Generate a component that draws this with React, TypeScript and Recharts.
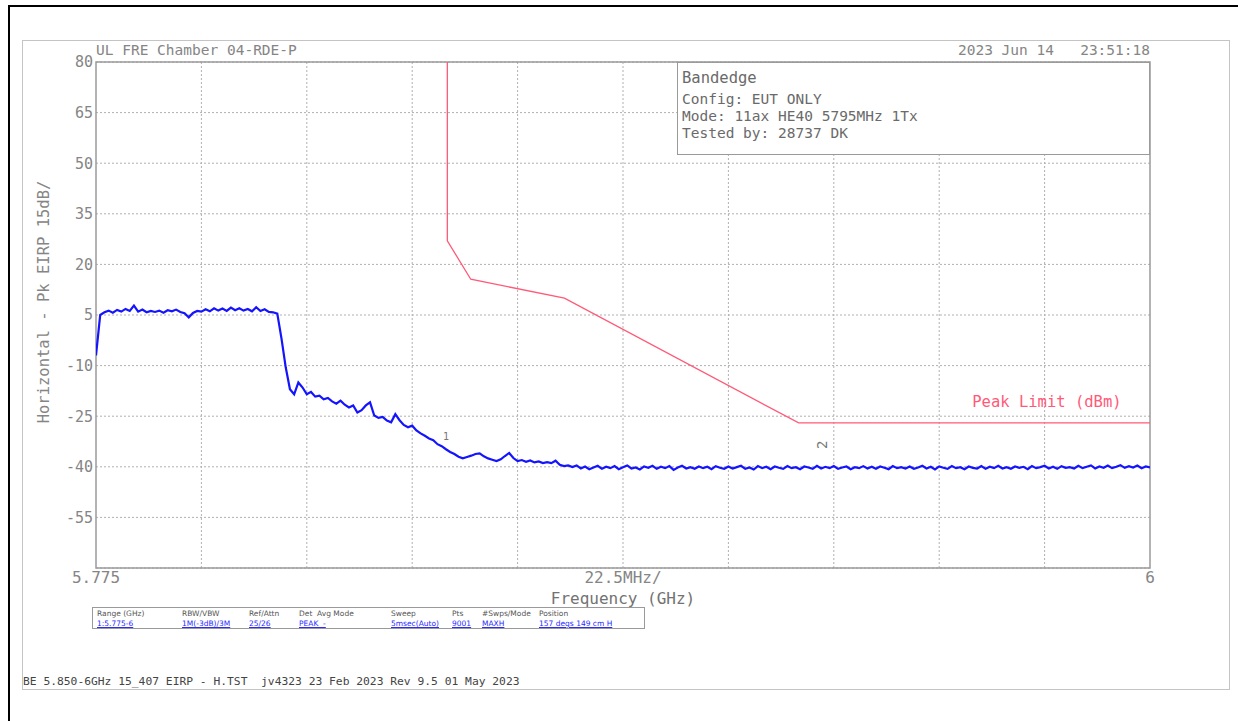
import React from "react";
import {
  ComposedChart,
  Line,
  XAxis,
  YAxis,
  CartesianGrid,
  ReferenceArea,
  ReferenceDot,
} from "recharts";

// analyzer sweep: evenly spaced points, levels (dBm)
const sweepStartGHz = 5.775;
const sweepStepGHz = 0.0009;
const traceLevels = [
  -7, 5.0, 5.8, 6.3, 5.7, 6.5, 6.0, 6.8, 6.2, 7.8,
  6.0, 6.6, 5.8, 6.2, 5.9, 6.3, 5.7, 6.4, 6.1, 6.6,
  5.9, 5.5, 4.3, 5.6, 6.2, 6.0, 6.7, 6.1, 7.0, 6.3,
  6.9, 6.2, 7.2, 6.4, 7.0, 6.3, 6.8, 6.1, 7.3, 6.2,
  6.7, 5.9, 5.8, 5.4, -2.0, -10.5, -17.0, -18.5, -15.0, -16.5,
  -18.5, -17.8, -19.2, -18.9, -20.0, -19.6, -20.6, -21.3, -20.4, -21.6,
  -22.4, -21.8, -23.9, -23.2, -21.8, -20.9, -24.8, -25.5, -25.2, -26.3,
  -26.8, -24.4, -26.2, -27.6, -28.3, -27.8, -29.2, -30.1, -30.8, -31.6,
  -32.1, -33.3, -33.9, -34.8, -35.6, -36.2, -37.0, -37.5, -37.1, -36.7,
  -36.2, -36.0, -36.9, -37.5, -37.9, -38.3, -37.8, -36.8, -35.9, -37.4,
  -38.3, -38.0, -38.5, -38.1, -38.7, -38.4, -38.9, -38.6, -38.9, -38.2,
  -39.4, -39.8, -39.6,
  -40.1, -39.6, -40.5, -39.9, -40.7, -40.2, -39.7, -40.6, -40.0, -40.4,
  -39.8, -40.7, -40.1, -39.6, -40.5, -40.2, -40.8, -39.9, -40.3, -39.7,
  -40.6, -40.0, -40.4, -39.8, -40.9, -40.2, -39.7, -40.5, -40.1, -40.6,
  -39.9, -40.4, -40.0, -40.7, -39.8, -40.3, -40.6, -39.9, -40.5, -40.1,
  -39.7, -40.6, -40.2, -40.8, -39.8, -40.4, -40.0, -40.7, -39.9, -40.3,
  -40.6, -39.8, -40.4, -40.1, -40.7, -39.9, -40.2, -40.6, -39.7, -40.5,
  -40.0, -40.4, -39.8, -40.6, -40.2, -39.9, -40.7, -40.1, -40.4, -39.8,
  -40.5, -40.0, -40.6, -39.9, -40.3, -40.7, -39.8, -40.4, -40.1, -40.5,
  -39.9, -40.6, -40.2, -39.7, -40.5, -40.0, -40.8, -39.9, -40.3, -40.6,
  -39.8, -40.4, -40.1, -40.7, -39.9, -40.3, -40.5, -39.8, -40.6, -40.0,
  -40.4, -39.7, -40.5, -40.1, -40.6, -39.9, -40.3, -40.0, -40.7, -39.8,
  -40.4, -40.1, -39.7, -40.5, -40.0, -40.6, -39.8, -40.3, -40.1, -40.5,
  -39.7, -40.4, -40.0, -39.6, -40.5, -39.9, -40.3, -39.6, -40.4, -40.0,
  -39.5, -40.3, -39.8, -40.2, -39.6, -40.4, -39.9, -40.2,
];

// FCC 15.407 peak limit mask
const limitFreqs = [5.85, 5.85, 5.855, 5.875, 5.925, 6.0];
const limitLevels = [80, 27, 15.6, 10, -27, -27];

const yTicks = [80, 65, 50, 35, 20, 5, -10, -25, -40, -55];
const yGridLevels = [80, 65, 50, 35, 20, 5, -10, -25, -40, -55, -70];
const xGridFreqs = [5.7975, 5.82, 5.8425, 5.865, 5.8875, 5.91, 5.9325, 5.955, 5.9775];
const xTickFreqs = [5.775, 5.8875, 6.0];
const xTickLabels = ["5.775", "22.5MHz/", "6"];

const infoLines = ["Config: EUT ONLY", "Mode: 11ax HE40 5795MHz 1Tx", "Tested by: 28737 DK"];

const tableHeads = ["Range (GHz)", "RBW/VBW", "Ref/Attn", "Det  Avg Mode", "Sweep", "Pts", "#Swps/Mode", "Position"];
const tableVals = ["1:5.775-6", "1M(-3dB)/3M", "25/26", "PEAK  -", "5msec(Auto)", "9001", "MAXH", "157 degs 149 cm H"];
const tableCols = [96, 181, 248, 298, 390, 451, 481, 538];

const traceData = traceLevels.map((v, i) => ({
  f: +(sweepStartGHz + i * sweepStepGHz).toFixed(4),
  v,
}));
const limitData = limitFreqs.map((f, i) => ({ f, v: limitLevels[i] }));

const mono = "'DejaVu Sans Mono', monospace";
const gray = "#858585";

function YLabel(props: any) {
  const vb = props.viewBox || {};
  const x = 44;
  const y = (vb.y ?? 62) + (vb.height ?? 506) / 2 - 13;
  return (
    <text
      x={x}
      y={y}
      transform={`rotate(-90, ${x}, ${y})`}
      textAnchor="middle"
      dominantBaseline="central"
      fill={gray}
      fontFamily={mono}
      fontSize={15.5}
    >
      Horizontal - Pk EIRP 15dB/
    </text>
  );
}

export default function App() {
  return (
    <div
      style={{
        position: "absolute",
        left: 0,
        top: 0,
        width: 1238,
        height: 721,
        background: "#fff",
        overflow: "hidden",
        fontFamily: mono,
      }}
    >
      {/* page border */}
      <div style={{ position: "absolute", left: 8, top: 5, width: 1240, height: 730, borderLeft: "2px solid #000", borderTop: "2px solid #000" }} />
      {/* plot sheet frame */}
      <div style={{ position: "absolute", left: 22, top: 40, width: 1206, height: 648, border: "1px solid #c4c4c4" }} />

      <div style={{ position: "absolute", left: 0, top: 0 }}>
        <ComposedChart
          width={1238}
          height={721}
          margin={{ top: 62, right: 88, bottom: 113, left: 36 }}
        >
          <CartesianGrid
            stroke="#b0b0b0"
            strokeDasharray="2 2"
            verticalValues={xGridFreqs}
            horizontalValues={yGridLevels}
          />
          <XAxis
            dataKey="f"
            type="number"
            domain={[5.775, 6]}
            ticks={xTickFreqs}
            tickFormatter={(t: number) => xTickLabels[xTickFreqs.indexOf(t)] ?? ""}
            allowDataOverflow
            height={40}
            tickSize={0}
            tickMargin={4}
            axisLine={false}
            tick={{ fill: gray, fontSize: 16, fontFamily: mono }}
            label={{
              value: "Frequency (GHz)",
              position: "insideBottom",
              offset: 4,
              fill: "#727272",
              fontSize: 16,
              fontFamily: mono,
            }}
          />
          <YAxis
            type="number"
            domain={[-70, 80]}
            ticks={yTicks}
            allowDataOverflow
            width={60}
            tickSize={0}
            tickMargin={3}
            axisLine={false}
            tick={{ fill: gray, fontSize: 15, fontFamily: mono }}
            label={<YLabel />}
          />
          <ReferenceArea
            x1={5.775}
            x2={6}
            y1={-70}
            y2={80}
            fill="none"
            stroke="#9a9a9a"
            strokeWidth={1.5}
          />
          <Line
            data={limitData}
            dataKey="v"
            type="linear"
            stroke="#ff5a78"
            strokeWidth={1.3}
            dot={false}
            isAnimationActive={false}
          />
          <Line
            data={traceData}
            dataKey="v"
            type="linear"
            stroke="#1414ff"
            strokeWidth={2.2}
            strokeLinejoin="miter"
            dot={false}
            isAnimationActive={false}
          />
          <ReferenceDot
            x={5.978}
            y={-20.5}
            r={0}
            label={{ value: "Peak Limit (dBm)", fill: "#ff5a78", fontSize: 15.5, fontFamily: mono, position: "center" }}
          />
          <ReferenceDot
            x={5.8497}
            y={-31}
            r={0}
            label={{ value: "1", fill: "#777", fontSize: 10, fontFamily: mono, position: "center" }}
          />
          <ReferenceDot
            x={5.93}
            y={-33.5}
            r={0}
            label={{ value: "2", fill: "#777", fontSize: 14, fontFamily: mono, position: "center", angle: -90 }}
          />
        </ComposedChart>
      </div>

      {/* header texts */}
      <div style={{ position: "absolute", left: 96, top: 42, fontSize: 14.5, color: gray, whiteSpace: "pre", lineHeight: "16px" }}>
        UL FRE Chamber 04-RDE-P
      </div>
      <div style={{ position: "absolute", right: 88, top: 42, fontSize: 14.5, color: gray, whiteSpace: "pre", lineHeight: "16px" }}>
        {"2023 Jun 14   23:51:18"}
      </div>

      {/* info box */}
      <div
        style={{
          position: "absolute",
          left: 677,
          top: 62,
          width: 473,
          height: 93,
          boxSizing: "border-box",
          border: "1px solid #9a9a9a",
          background: "#fff",
          color: "#6a6a6a",
          padding: "5px 0 0 4px",
        }}
      >
        <div style={{ fontSize: 15.5, lineHeight: "20px", marginBottom: 3 }}>Bandedge</div>
        {infoLines.map((t) => (
          <div key={t} style={{ fontSize: 14.5, lineHeight: "17px", whiteSpace: "pre" }}>
            {t}
          </div>
        ))}
      </div>

      {/* settings table */}
      <div
        style={{
          position: "absolute",
          left: 92,
          top: 607,
          width: 553,
          height: 22,
          boxSizing: "border-box",
          border: "1px solid #9a9a9a",
          fontFamily: "'DejaVu Sans', sans-serif",
          fontSize: 7.5,
        }}
      >
        {tableHeads.map((h, i) => (
          <div key={h} style={{ position: "absolute", left: tableCols[i] - 92, top: 1, color: "#555", whiteSpace: "pre" }}>
            {h}
          </div>
        ))}
        {tableVals.map((v, i) => (
          <div
            key={v}
            style={{ position: "absolute", left: tableCols[i] - 92, top: 11, color: "#2a2aff", whiteSpace: "pre", textDecoration: "underline" }}
          >
            {v}
          </div>
        ))}
      </div>

      {/* footer */}
      <div style={{ position: "absolute", left: 23, top: 675, fontSize: 11.3, color: "#444", whiteSpace: "pre" }}>
        BE 5.850-6GHz 15_407 EIRP - H.TST  jv4323 23 Feb 2023 Rev 9.5 01 May 2023
      </div>
    </div>
  );
}
